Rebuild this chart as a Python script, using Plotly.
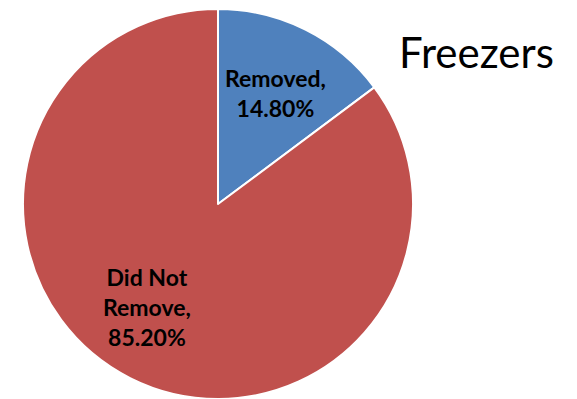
import math
import plotly.graph_objects as go

labels = ["Removed", "Did Not<br>Remove"]
values = [14.8, 85.2]
colors = ["#4F81BD", "#C0504D"]
title = "Freezers"

W, H = 577, 399
# page is offset by 8px body margin; coordinates below are figure pixels
cx, cy, R = 210, 196, 195

fig = go.Figure(go.Pie(
    labels=labels,
    values=values,
    sort=False,
    direction="clockwise",
    rotation=0,
    marker=dict(colors=colors, line=dict(color="white", width=2)),
    textinfo="none",
    hoverinfo="none",
    showlegend=False,
    domain=dict(x=[(cx - R) / W, (cx + R) / W], y=[(H - cy - R) / H, (H - cy + R) / H]),
))

# data labels placed along each slice's mid-angle (best-fit style)
label_r = [0.64, 0.64]
label_shift_deg = [1, 8]
total = sum(values)
cum = 0
for lab, v, rf, sh in zip(labels, values, label_r, label_shift_deg):
    mid = (cum + v / 2) / total * 360 + sh
    cum += v
    a = math.radians(mid)
    px = cx + rf * R * math.sin(a)
    py = cy - rf * R * math.cos(a)
    fig.add_annotation(
        text=f"{lab},<br>{v / total:.2%}",
        x=px / W, y=1 - py / H, xref="paper", yref="paper",
        showarrow=False, xanchor="center", yanchor="middle",
        font=dict(family="Lato", size=23, color="black", weight="bold"),
    )

fig.add_annotation(
    text=title, x=468 / W, y=1 - 44 / H, xref="paper", yref="paper",
    showarrow=False, font=dict(family="Lato", size=42, color="black"),
    xanchor="center", yanchor="middle",
)

fig.update_layout(
    width=W, height=H,
    margin=dict(l=0, r=0, t=0, b=0),
    paper_bgcolor="white", plot_bgcolor="white",
)

fig.write_html("out.html")
